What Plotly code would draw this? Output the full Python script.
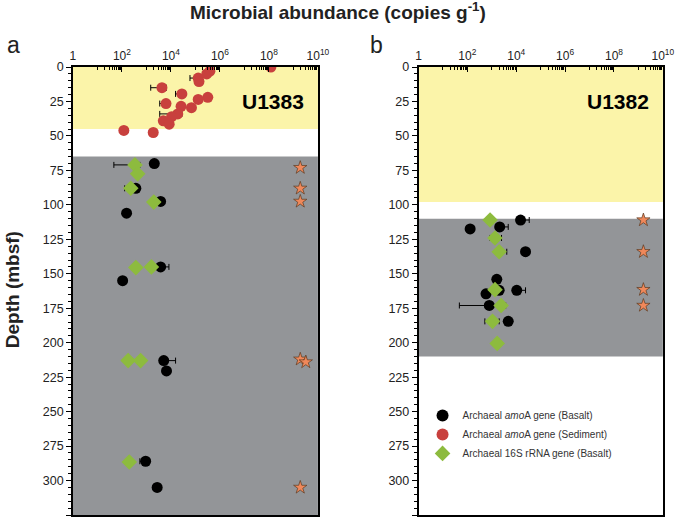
import plotly.graph_objs as go

# ---- data (abundance in copies per g, depth in mbsf) ----
# Site U1383 (panel a)
sed_x = [1.2e8, 3.9e5, 2.9e5, 1.3e5, 1.4e5, 4.3e3, 2.8e4, 3.2e5, 1.3e5,
         6.3e3, 6.9e4, 2.6e4, 1.9e4, 1.07e4, 4.9e3, 8.5e3, 1.2e2, 1.9e3]
sed_depth = [0, 3, 5, 8, 10.5, 15, 19.5, 22, 23.5,
             26.5, 29.5, 28.5, 34, 36, 39, 41.5, 46, 47.5]
sed_err_lo = [0, 0, 0, 6.0e4, 0, 1.5e3, 1.55e4, 0, 0,
              3.5e3, 0, 0, 3.5e3, 0, 0, 0, 0, 0]
sed_err_hi = [0, 0, 0, 0, 0, 6.6e3, 0, 0, 0,
              0, 0, 0, 2.8e4, 0, 0, 0, 0, 0]

a_bas_x = [2.1e3, 3.7e2, 3.8e3, 1.55e2, 3.8e3, 1.07e2, 5.1e3, 6.6e3, 9.3e2, 2.75e3]
a_bas_depth = [70, 88, 97.5, 106, 145, 155, 213, 220.5, 286, 305]
a_bas_err_lo = [0, 0, 0, 0, 0, 0, 0, 0, 5.4e2, 0]
a_bas_err_hi = [0, 0, 0, 0, 8.3e3, 0, 1.55e4, 0, 0, 0]

a_16s_x = [3.4e2, 4.4e2, 2.3e2, 2.0e3, 3.7e2, 1.6e3, 1.8e2, 5.8e2, 2.0e2]
a_16s_depth = [71, 77.5, 88, 98, 145.5, 145, 213, 213, 286.5]
a_16s_err_lo = [47, 0, 1.3e2, 0, 0, 0, 1.5e2, 0, 0]
a_16s_err_hi = [5.4e2, 0, 0, 0, 0, 0, 0, 0, 0]

a_star_x = [1.9e9, 1.9e9, 1.9e9, 1.9e9, 3.2e9, 1.9e9]
a_star_depth = [73, 88, 97.5, 212, 214, 305]

# Site U1382 (panel b)
b_bas_x = [1.5e4, 2.1e3, 1.3e2, 2.4e4, 1.6e3, 2.0e3, 1.05e4, 5.8e2, 7.9e2, 4.7e3]
b_bas_depth = [111, 116, 117.5, 134, 154, 162, 162, 164.5, 173, 184.5]
b_bas_err_lo = [0, 0, 0, 0, 0, 0, 0, 0, 47, 0]
b_bas_err_hi = [3.4e4, 4.7e3, 0, 0, 0, 0, 2.4e4, 0, 0, 0]

b_16s_x = [8.5e2, 1.35e3, 2.0e3, 1.35e3, 2.4e3, 1.07e3, 1.66e3]
b_16s_depth = [111, 124, 134, 161.5, 173, 184.5, 200.5]
b_16s_err_lo = [0, 8.5e2, 0, 0, 0, 5.2e2, 0]
b_16s_err_hi = [0, 2.5e3, 4.1e3, 0, 3.7e3, 2.0e3, 0]

b_star_x = [1.6e9, 1.6e9, 1.6e9, 1.6e9]
b_star_depth = [111, 134, 161.5, 173]

# background zones: (top, bottom) in mbsf
a_sediment = (0, 45)
a_basalt = (65, 325)
b_sediment = (0, 98)
b_basalt = (110, 210)

tick_vals = [1, 1e2, 1e4, 1e6, 1e8, 1e10]
tick_text = ['1', '10<sup>2</sup>', '10<sup>4</sup>', '10<sup>6</sup>',
             '10<sup>8</sup>', '10<sup>10</sup>']

BLACK = '#000000'
RED = '#c8403d'
GREEN = '#8dbb3e'
STAR = '#f0885a'
YELLOW = '#fbf4a9'
GREY = '#939598'
FONT = 'Liberation Sans, Arial, sans-serif'


def errs(vals, lo, hi):
    minus = [v - l if l else 0 for v, l in zip(vals, lo)]
    plus = [h - v if h else 0 for v, h in zip(vals, hi)]
    return dict(type='data', symmetric=False, array=plus, arrayminus=minus,
                color='black', thickness=1, width=3)


fig = go.Figure()

for xa, ya, sx, sd in [('x', 'y', a_star_x, a_star_depth),
                       ('x2', 'y2', b_star_x, b_star_depth)]:
    fig.add_trace(go.Scatter(
        x=sx, y=sd, xaxis=xa, yaxis=ya, mode='markers', showlegend=False,
        marker=dict(symbol='star', size=10, color=STAR,
                    line=dict(color='#5a3a20', width=0.7))))

# panel a
fig.add_trace(go.Scatter(
    x=a_bas_x, y=a_bas_depth, mode='markers', name='Archaeal <i>amo</i>A gene (Basalt)',
    marker=dict(symbol='circle', size=11, color=BLACK),
    error_x=errs(a_bas_x, a_bas_err_lo, a_bas_err_hi), legendrank=1))
fig.add_trace(go.Scatter(
    x=sed_x, y=sed_depth, mode='markers', name='Archaeal <i>amo</i>A gene (Sediment)',
    marker=dict(symbol='circle', size=11, color=RED),
    error_x=errs(sed_x, sed_err_lo, sed_err_hi), legendrank=2))
fig.add_trace(go.Scatter(
    x=a_16s_x, y=a_16s_depth, mode='markers', name='Archaeal 16S rRNA gene (Basalt)',
    marker=dict(symbol='diamond', size=12, color=GREEN),
    error_x=errs(a_16s_x, a_16s_err_lo, a_16s_err_hi), legendrank=3))

# panel b
fig.add_trace(go.Scatter(
    x=b_bas_x, y=b_bas_depth, xaxis='x2', yaxis='y2', mode='markers', showlegend=False,
    marker=dict(symbol='circle', size=11, color=BLACK),
    error_x=errs(b_bas_x, b_bas_err_lo, b_bas_err_hi)))
fig.add_trace(go.Scatter(
    x=b_16s_x, y=b_16s_depth, xaxis='x2', yaxis='y2', mode='markers', showlegend=False,
    marker=dict(symbol='diamond', size=12, color=GREEN),
    error_x=errs(b_16s_x, b_16s_err_lo, b_16s_err_hi)))

shapes = []
for xr, yr, zones in [('x domain', 'y', [(a_sediment, YELLOW), (a_basalt, GREY)]),
                      ('x2 domain', 'y2', [(b_sediment, YELLOW), (b_basalt, GREY)])]:
    for (top, bot), col in zones:
        shapes.append(dict(type='rect', xref=xr, yref=yr, x0=0, x1=1, y0=top, y1=bot,
                           fillcolor=col, line=dict(width=0), layer='below'))

minor_vals = [m * 10 ** e for e in (1, 3, 5, 7, 9) for m in range(1, 10)]

xaxis_style = dict(
    type='log', range=[0, 10], side='top', tickvals=tick_vals, ticktext=tick_text,
    ticks='inside', ticklen=5, tickcolor='black', showline=True, linecolor='black',
    linewidth=1.5, mirror=True, showgrid=False, zeroline=False, automargin=False,
    minor=dict(tickvals=minor_vals, ticks='inside', ticklen=3, tickcolor='black'),
    tickfont=dict(size=12, color='#222', family=FONT))
yaxis_style = dict(
    range=[325, 0], tickmode='linear', tick0=0, dtick=25, ticks='outside', ticklen=5,
    tickcolor='black', showline=True, linecolor='black', linewidth=1.5, mirror=True,
    showgrid=False, zeroline=False, automargin=False,
    minor=dict(dtick=5, ticks='outside', ticklen=3, tickcolor='black'),
    tickfont=dict(size=12.5, color='#222', family=FONT))

fig.update_layout(
    width=675, height=522,
    margin=dict(l=0, r=0, t=0, b=0, autoexpand=False),
    paper_bgcolor='white', plot_bgcolor='white',
    font=dict(family=FONT, color='#222'),
    xaxis=dict(domain=[0.108, 0.471], anchor='y', **xaxis_style),
    yaxis=dict(domain=[0.0134, 0.8716], anchor='x', **yaxis_style),
    xaxis2=dict(domain=[0.620, 0.982], anchor='y2', **xaxis_style),
    yaxis2=dict(domain=[0.0134, 0.8716], anchor='x2', **yaxis_style),
    shapes=shapes,
    legend=dict(x=0.626, y=0.232, xanchor='left', yanchor='top',
                bgcolor='rgba(0,0,0,0)', font=dict(size=10, color='#333', family=FONT),
                itemsizing='constant', tracegroupgap=0),
    annotations=[
        dict(text='<b>Microbial abundance (copies g<sup>-1</sup>)</b>', x=0.5, y=1.006,
             xref='paper', yref='paper', xanchor='center', yanchor='top',
             showarrow=False, font=dict(size=19, color='#222')),
        dict(text='<b>Depth (mbsf)</b>', x=0.0, y=0.445, xref='paper', yref='paper',
             xanchor='left', yanchor='middle', textangle=-90,
             showarrow=False, font=dict(size=19, color='#222')),
        dict(text='a', x=0.008, y=0.914, xref='paper', yref='paper',
             xanchor='left', yanchor='middle', showarrow=False, font=dict(size=23, color='#222')),
        dict(text='b', x=0.545, y=0.914, xref='paper', yref='paper',
             xanchor='left', yanchor='middle', showarrow=False, font=dict(size=23, color='#222')),
        dict(text='<b>U1383</b>', x=0.95, xref='x domain', y=25, yref='y',
             xanchor='right', yanchor='middle', showarrow=False,
             font=dict(size=21, color='black')),
        dict(text='<b>U1382</b>', x=0.95, xref='x2 domain', y=25, yref='y2',
             xanchor='right', yanchor='middle', showarrow=False,
             font=dict(size=21, color='black')),
    ],
)

fig.write_html("out.html", config={'displayModeBar': False},
               post_script="document.body.style.margin='0';document.body.style.overflow='hidden';")
